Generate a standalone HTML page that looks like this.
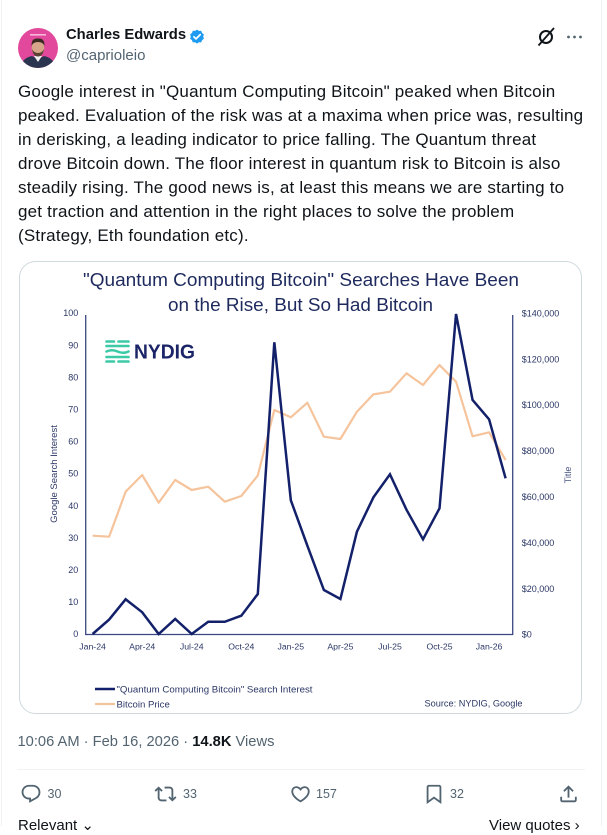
<!DOCTYPE html>
<html><head><meta charset="utf-8">
<style>
html,body{margin:0;padding:0;background:#fff;}
body{width:607px;height:826px;position:relative;overflow:hidden;font-family:"Liberation Sans",Arial,sans-serif;color:#0f1419;}
.abs{position:absolute;white-space:nowrap;}
.txt{left:18px;top:80px;font-size:17px;line-height:24px;letter-spacing:0.2px;color:#0f1419;}
.txt div{white-space:nowrap;height:24px;}
.num{font-size:12.5px;color:#536471;line-height:16px;}
</style></head><body>
<div class="abs" style="left:1px;top:0;width:1px;height:826px;background:#eff3f4"></div>
<div class="abs" style="left:601px;top:0;width:1px;height:826px;background:#eff3f4"></div>

<!-- avatar -->
<svg class="abs" style="left:18px;top:28px" width="40" height="40" viewBox="0 0 40 40">
<defs><clipPath id="av"><circle cx="20" cy="20" r="20"/></clipPath></defs>
<g clip-path="url(#av)">
<rect width="40" height="40" fill="#e2489c"/>
<rect x="12" y="6" width="16" height="1.6" fill="#f6b7d9"/>
<path d="M2 40 Q4 30 14 28 L20 31 L26 28 Q36 30 38 40 Z" fill="#2b3550"/>
<path d="M16 28 L20 34 L24 28 Z" fill="#f1f1f1"/>
<ellipse cx="20" cy="20" rx="6.3" ry="8" fill="#d6a58a"/>
<path d="M13.6 18 Q13 10 20 10.5 Q27 10 26.4 18 Q25 14 20 14 Q15 14 13.6 18 Z" fill="#3a2a22"/>
<path d="M14 21 Q15 28.5 20 28.5 Q25 28.5 26 21 Q24 25 20 25 Q16 25 14 21 Z" fill="#5a4233"/>
</g></svg>

<div class="abs" style="left:66px;top:26px;font-size:14.8px;font-weight:bold;line-height:18px;color:#0f1419">Charles Edwards</div>
<svg class="abs" style="left:189px;top:28.5px" width="16" height="16" viewBox="0 0 16 16">
<path d="M8 0.6 L9.9 1.9 L12.2 1.8 L13 4 L14.9 5.4 L14.2 7.6 L14.9 9.8 L13 11.2 L12.2 13.4 L9.9 13.3 L8 14.6 L6.1 13.3 L3.8 13.4 L3 11.2 L1.1 9.8 L1.8 7.6 L1.1 5.4 L3 4 L3.8 1.8 L6.1 1.9 Z" fill="#1d9bf0"/>
<path d="M4.9 7.8 L7 9.9 L11.2 5.6" stroke="#fff" stroke-width="1.7" fill="none" stroke-linecap="round" stroke-linejoin="round"/>
</svg>
<div class="abs" style="left:66px;top:46.5px;font-size:15px;line-height:18px;color:#536471">@caprioleio</div>

<!-- top right icons -->
<svg class="abs" style="left:534px;top:25px" width="56" height="24" viewBox="534 25 56 24">
<circle cx="546" cy="37" r="6" fill="none" stroke="#0f1419" stroke-width="2"/>
<line x1="538.5" y1="45.5" x2="554" y2="28" stroke="#0f1419" stroke-width="1.8"/>
<circle cx="568.5" cy="37" r="1.4" fill="#536471"/>
<circle cx="574.5" cy="37" r="1.4" fill="#536471"/>
<circle cx="580.5" cy="37" r="1.4" fill="#536471"/>
</svg>

<div class="abs txt">
<div>Google interest in "Quantum Computing Bitcoin" peaked when Bitcoin</div>
<div>peaked. Evaluation of the risk was at a maxima when price was, resulting</div>
<div>in derisking, a leading indicator to price falling. The Quantum threat</div>
<div>drove Bitcoin down. The floor interest in quantum risk to Bitcoin is also</div>
<div>steadily rising. The good news is, at least this means we are starting to</div>
<div>get traction and attention in the right places to solve the problem</div>
<div>(Strategy, Eth foundation etc).</div>
</div>

<!-- chart card -->
<svg class="abs" style="left:0;top:0" width="607" height="826" viewBox="0 0 607 826">
<rect x="19.5" y="261.5" width="562" height="452" rx="16" ry="16" fill="#fff" stroke="#cfd9de" stroke-width="1"/>
<g font-family="Liberation Sans, Arial, sans-serif">
<text x="301" y="286" font-size="18.5" fill="#1e2a5e" text-anchor="middle" textLength="436" lengthAdjust="spacingAndGlyphs">"Quantum Computing Bitcoin" Searches Have Been</text>
<text x="300.5" y="311" font-size="18.5" fill="#1e2a5e" text-anchor="middle" textLength="265" lengthAdjust="spacingAndGlyphs">on the Rise, But So Had Bitcoin</text>

<!-- NYDIG logo -->
<g stroke="#3ccaa6" stroke-width="2.6" fill="none" stroke-linecap="round">
<path d="M106.5 341.5 H114 M118.5 341.5 H128.5"/>
<path d="M106.5 346 H128.5"/>
<path d="M106.5 351.5 Q112 349 117.5 351.5 Q123 354 128.5 351.5"/>
<path d="M106.5 357 H128.5"/>
<path d="M106.5 361.5 H114 M118.5 361.5 H128.5"/>
</g>
<text x="134" y="358.3" font-size="20" font-weight="bold" fill="#1a2466" textLength="61" lengthAdjust="spacingAndGlyphs">NYDIG</text>

<!-- axes -->
<g stroke="#3b4782" stroke-width="1.3" fill="none">
<line x1="85.7" y1="315" x2="85.7" y2="634.5"/>
<line x1="512.7" y1="315" x2="512.7" y2="634.5"/>
<line x1="85" y1="634.5" x2="513.3" y2="634.5"/>
</g>

<!-- left ticks -->
<g font-size="9" fill="#2b3766" text-anchor="end">
<text x="78.3" y="316.2">100</text>
<text x="78.3" y="348.3">90</text>
<text x="78.3" y="380.4">80</text>
<text x="78.3" y="412.5">70</text>
<text x="78.3" y="444.6">60</text>
<text x="78.3" y="476.7">50</text>
<text x="78.3" y="508.8">40</text>
<text x="78.3" y="540.9">30</text>
<text x="78.3" y="573">20</text>
<text x="78.3" y="605.1">10</text>
<text x="78.3" y="637.2">0</text>
</g>
<text transform="translate(57,474) rotate(-90)" font-size="9.5" fill="#2b3766" text-anchor="middle">Google Search Interest</text>

<!-- right ticks -->
<g font-size="9" fill="#2b3766">
<text x="521.7" y="316.4">$140,000</text>
<text x="521.7" y="362.3">$120,000</text>
<text x="521.7" y="408.2">$100,000</text>
<text x="521.7" y="454.1">$80,000</text>
<text x="521.7" y="500">$60,000</text>
<text x="521.7" y="545.9">$40,000</text>
<text x="521.7" y="591.8">$20,000</text>
<text x="521.7" y="637.7">$0</text>
</g>
<text transform="translate(571,475) rotate(-90)" font-size="9" fill="#4a5585" text-anchor="middle">Title</text>

<!-- x ticks -->
<g font-size="8.7" fill="#2b3766" text-anchor="middle">
<text x="92.6" y="649.6">Jan-24</text>
<text x="142.2" y="649.6">Apr-24</text>
<text x="191.7" y="649.6">Jul-24</text>
<text x="241.3" y="649.6">Oct-24</text>
<text x="290.8" y="649.6">Jan-25</text>
<text x="340.4" y="649.6">Apr-25</text>
<text x="390" y="649.6">Jul-25</text>
<text x="439.5" y="649.6">Oct-25</text>
<text x="489.1" y="649.6">Jan-26</text>
</g>

<!-- series -->
<polyline fill="none" stroke="#f5c49c" stroke-width="2.2" stroke-linejoin="round"
points="92.6,535.7 109.12,536.7 125.64,491.7 142.16,475 158.68,502.7 175.2,480 191.72,490 208.24,486.7 224.76,501.7 241.28,496 257.8,475.5 274.32,410 290.84,417.3 307.36,402.7 323.88,436.7 340.4,439 356.92,411.7 373.44,394.3 389.96,391.7 406.48,373.3 423,385 439.52,365 456.04,381.7 472.56,436.3 489.08,432.3 505.6,460"/>
<polyline fill="none" stroke="#13206a" stroke-width="2.5" stroke-linejoin="miter" stroke-miterlimit="3"
points="92.6,634 109.12,619.6 125.64,599.3 142.16,612.2 158.68,634 175.2,618.9 191.72,634 208.24,621.8 224.76,621.8 241.28,615.7 257.8,594 274.32,342.3 290.84,500.3 307.36,545.7 323.88,590 340.4,599 356.92,531.7 373.44,497.3 389.96,474.3 406.48,509.7 423,539.3 439.52,508.3 456.04,314 472.56,400 489.08,419.3 505.6,478.3"/>

<!-- legend -->
<line x1="95" y1="689" x2="115" y2="689" stroke="#13206a" stroke-width="2.5"/>
<text x="116.5" y="692.3" font-size="9.6" fill="#2b3766" textLength="196" lengthAdjust="spacingAndGlyphs">"Quantum Computing Bitcoin" Search Interest</text>
<line x1="95" y1="704" x2="115" y2="704" stroke="#f5c49c" stroke-width="2.2"/>
<text x="116.5" y="707.3" font-size="9.6" fill="#2b3766">Bitcoin Price</text>
<text x="424.5" y="706.3" font-size="9.6" fill="#2b3766" textLength="98" lengthAdjust="spacingAndGlyphs">Source: NYDIG, Google</text>
</g>
</svg>

<!-- footer -->
<div class="abs" style="left:17.5px;top:731.5px;font-size:14.7px;line-height:20px;color:#536471">10:06 AM · Feb 16, 2026 · <b style="color:#0f1419">14.8K</b> Views</div>
<div class="abs" style="left:17px;top:768.5px;width:568px;height:1px;background:#eff3f4"></div>

<svg class="abs" style="left:0;top:780px" width="607" height="28" viewBox="0 780 607 28">
<g fill="#536471">
<g transform="translate(20,783) scale(0.9167)"><path d="M1.751 10c0-4.42 3.584-8 8.005-8h4.366c4.49 0 8.129 3.64 8.129 8.13 0 2.96-1.607 5.68-4.196 7.11l-8.054 4.46v-3.69h-.067c-4.49.1-8.183-3.51-8.183-8.01zm8.005-6c-3.317 0-6.005 2.69-6.005 6 0 3.37 2.77 6.08 6.138 6.01l.351-.01h1.761v2.3l5.087-2.810c1.951-1.08 3.163-3.13 3.163-5.36 0-3.39-2.744-6.13-6.129-6.13H9.756z"/></g>
<g transform="translate(154.5,783) scale(0.9167)"><path d="M4.5 3.88l4.432 4.14-1.364 1.46L5.5 7.55V16c0 1.1.896 2 2 2H13v2H7.5c-2.209 0-4-1.79-4-4V7.55L1.432 9.48.068 8.02 4.5 3.88zM16.5 6H11V4h5.5c2.209 0 4 1.79 4 4v8.45l2.068-1.93 1.364 1.46-4.432 4.14-4.432-4.14 1.364-1.46 2.068 1.93V8c0-1.1-.896-2-2-2z"/></g>
<g transform="translate(289.5,783) scale(0.9167)"><path d="M16.697 5.5c-1.222-.06-2.679.51-3.89 2.16l-.805 1.09-.806-1.09C9.984 6.01 8.526 5.44 7.304 5.5c-1.243.07-2.349.78-2.91 1.91-.552 1.12-.633 2.78.479 4.82 1.074 1.970 3.257 4.27 7.129 6.61 3.87-2.34 6.052-4.64 7.126-6.61 1.111-2.04 1.03-3.7.477-4.82-.561-1.13-1.666-1.84-2.908-1.91zm4.187 7.69c-1.351 2.48-4.001 5.12-8.379 7.67l-.503.3-.504-.3c-4.379-2.55-7.029-5.19-8.382-7.670-1.36-2.5-1.41-4.86-.514-6.67.887-1.79 2.647-2.910 4.601-3.01 1.651-.09 3.368.56 4.798 2.010 1.429-1.45 3.146-2.1 4.796-2.01 1.954.1 3.714 1.22 4.601 3.01.896 1.81.846 4.17-.514 6.67z"/></g>
<g transform="translate(423,783) scale(0.9167)"><path d="M4 4.5C4 3.12 5.119 2 6.5 2h11C18.881 2 20 3.12 20 4.5v18.44l-8-5.71-8 5.71V4.5zM6.5 4c-.276 0-.5.22-.5.5v14.56l6-4.29 6 4.29V4.5c0-.28-.224-.5-.5-.5h-11z"/></g>
<g transform="translate(557.5,783) scale(0.9167)"><path d="M12 2.59l5.7 5.7-1.41 1.42L13 6.41V16h-2V6.41l-3.3 3.3-1.41-1.42L12 2.59zM21 15l-.02 3.51c0 1.38-1.12 2.49-2.5 2.49H5.5C4.11 21 3 19.880 3 18.5V15h2v3.5c0 .28.22.5.5.5h12.98c.28 0 .5-.22.5-.5L19 15h2z"/></g>
</g></svg>
<div class="abs num" style="left:47.5px;top:786px">30</div>
<div class="abs num" style="left:183px;top:786px">33</div>
<div class="abs num" style="left:316px;top:786px">157</div>
<div class="abs num" style="left:450px;top:786px">32</div>

<div class="abs" style="left:18px;top:817px;font-size:15px;line-height:18px;color:#0f1419">Relevant ⌄</div>
<div class="abs" style="left:489px;top:817px;font-size:15px;line-height:18px;color:#0f1419">View quotes ›</div>
</body></html>
